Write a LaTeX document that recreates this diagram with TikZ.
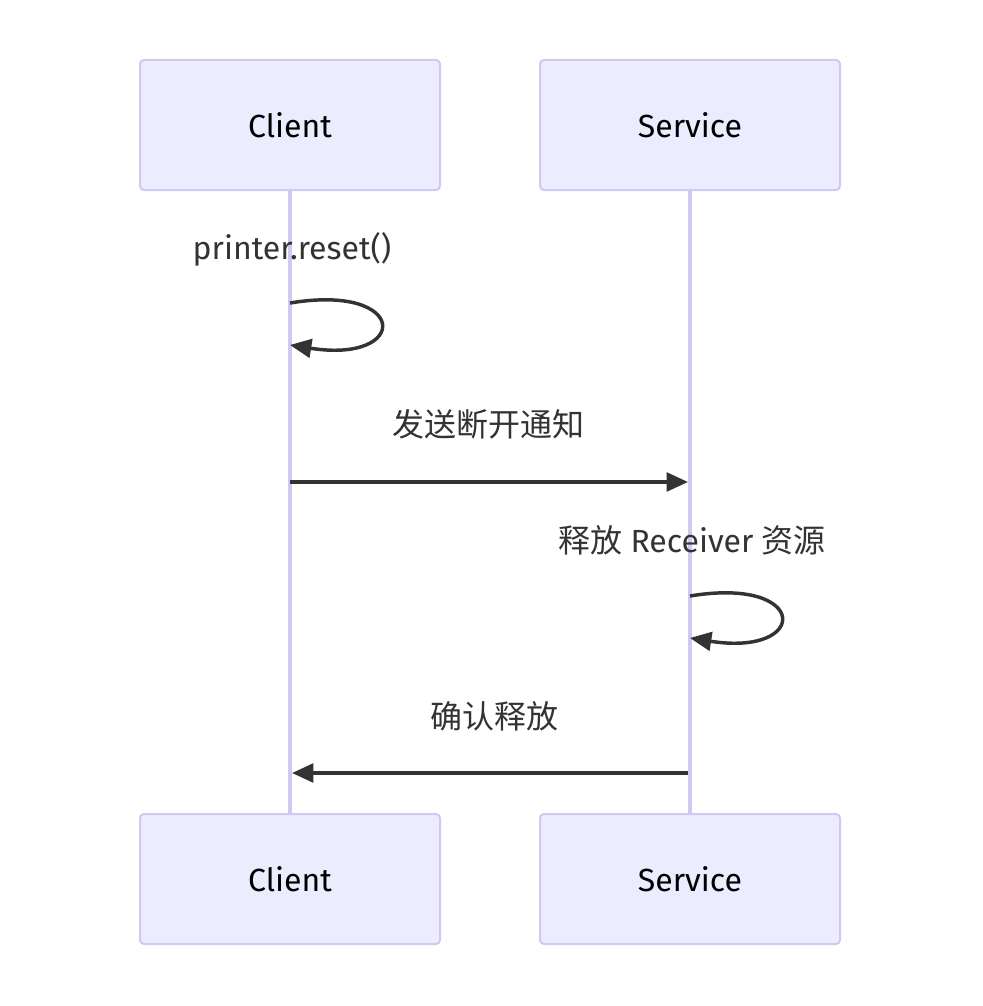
\documentclass[tikz,border=0pt]{standalone}
\usepackage{fontspec}
\setmainfont{Fira Sans}
\newfontfamily\cjk{Noto Sans CJK SC}
\usetikzlibrary{arrows.meta}
\definecolor{actfill}{HTML}{ECECFF}
\definecolor{actline}{HTML}{D3C8F2}
\definecolor{ink}{HTML}{333333}
\tikzset{
  actor/.style={draw=actline, fill=actfill, line width=1.5pt, rounded corners=3pt,
    minimum width=225pt, minimum height=97.5pt, inner sep=0pt,
    font=\fontsize{24}{28}\selectfont, text=black},
  lifeline/.style={draw=actline, line width=2.6pt},
  msg/.style={draw=ink, line width=2.6pt, -{Triangle[length=16pt,width=14pt]}},
  lbl/.style={font=\fontsize{24}{28}\selectfont, text=ink, inner sep=0pt}
}
\begin{document}
\begin{tikzpicture}[x=0.75pt,y=-0.75pt]
\useasboundingbox (0,0) rectangle (982,1006);
\node[actor] (ct) at (290,125) {Client};
\node[actor] (st) at (690,125) {Service};
\node[actor] (cb) at (290,879) {Client};
\node[actor] (sb) at (690,879) {Service};
\draw[lifeline] (ct.south) -- (cb.north);
\draw[lifeline] (st.south) -- (sb.north);
% self message 1
\node[lbl] (l1) at (292,249) {printer.reset()};
\coordinate (a1) at (290,303);
\coordinate (b1) at (290,345);
\draw[msg] (a1) .. controls (410,283) and (410,364) .. (b1);
% message 2
\node[lbl] (l2) at (488,424) {\cjk 发送断开通知};
\coordinate (a2) at (290,482);
\coordinate (b2) at (688,482);
\draw[msg] (a2) -- (b2);
% self message 3
\node[lbl] (l3) at (692,540) {{\cjk 释放} Receiver {\cjk 资源}};
\coordinate (a3) at (690,596);
\coordinate (b3) at (690,638);
\draw[msg] (a3) .. controls (810,576) and (810,657) .. (b3);
% message 4
\node[lbl] (l4) at (494,716) {\cjk 确认释放};
\coordinate (a4) at (688,773);
\coordinate (b4) at (292,773);
\draw[msg] (a4) -- (b4);
\end{tikzpicture}
\end{document}
